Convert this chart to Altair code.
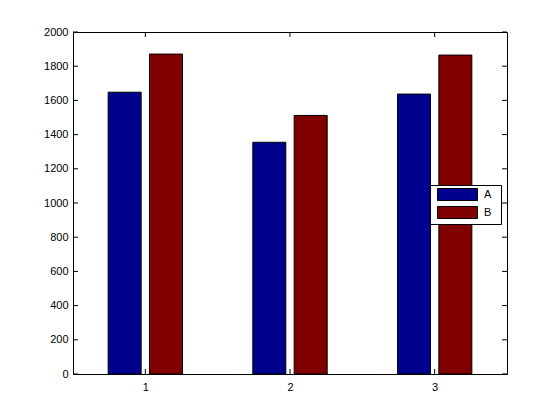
import altair as alt
import pandas as pd

categories = [1, 2, 3]
series_names = ["A", "B"]
a_vals = [1648, 1355, 1637]
b_vals = [1871, 1512, 1865]
y_ticks = [0, 200, 400, 600, 800, 1000, 1200, 1400, 1600, 1800, 2000]
x_ticks = [1, 2, 3]

rows = []
for c, a, b in zip(categories, a_vals, b_vals):
    rows.append({"cat": c, "series": "A", "value": a})
    rows.append({"cat": c, "series": "B", "value": b})
df = pd.DataFrame(rows)

W, H = 434, 342
xscale = alt.Scale(domain=[0.5, 3.5], nice=False, zero=False, padding=0)
yscale = alt.Scale(domain=[0, 2000], nice=False, padding=0)
xaxis = alt.Axis(values=x_ticks, format="d", title=None, grid=False,
                 ticks=False, labelPadding=7, domainColor="black",
                 labelColor="black", labelFont="Liberation Sans",
                 labelFontSize=11, labelOverlap=False)
yaxis = alt.Axis(values=y_ticks, format="d", title=None, grid=False, ticks=False,
                 labelPadding=5, domainColor="black", labelColor="black",
                 labelFont="Liberation Sans", labelFontSize=11,
                 labelOverlap=False)

bars = alt.Chart(df).transform_calculate(
    xpos="datum.cat + (datum.series == 'A' ? -0.143 : 0.143)"
).mark_bar(size=33, stroke="black", strokeWidth=1).encode(
    x=alt.X("xpos:Q", scale=xscale, axis=xaxis),
    y=alt.Y("value:Q", scale=yscale, axis=yaxis),
    color=alt.Color("series:N",
                    scale=alt.Scale(domain=series_names, range=["#00008F", "#800000"]),
                    legend=alt.Legend(title=None, orient="none", legendX=357, legendY=153,
                                      symbolType="M-3.333,-1H3.333V1H-3.333Z M6.3,0",
                                      symbolSize=144,
                                      symbolOffset=18,
                                      symbolStrokeColor="black", symbolStrokeWidth=1,
                                      symbolOpacity=1,
                                      strokeColor="black", fillColor="white",
                                      padding=3, rowPadding=1, labelOffset=20,
                                      labelFont="Liberation Sans", labelFontSize=11,
                                      labelColor="black")),
)

ydf = pd.DataFrame({"v": y_ticks})
xdf = pd.DataFrame({"v": x_ticks})

yl = alt.Chart(ydf).mark_rule(color="black").encode(
    y=alt.Y("v:Q", scale=yscale, axis=yaxis), x=alt.value(0), x2=alt.value(5))
yr = alt.Chart(ydf).mark_rule(color="black").encode(
    y=alt.Y("v:Q", scale=yscale, axis=yaxis), x=alt.value(W - 5), x2=alt.value(W))
xb = alt.Chart(xdf).mark_rule(color="black").encode(
    x=alt.X("v:Q", scale=xscale, axis=xaxis), y=alt.value(H - 5), y2=alt.value(H))
xt = alt.Chart(xdf).mark_rule(color="black").encode(
    x=alt.X("v:Q", scale=xscale, axis=xaxis), y=alt.value(0), y2=alt.value(5))

chart = alt.layer(bars, yl, yr, xb, xt).properties(
    width=W, height=H,
    autosize=alt.AutoSizeParams(type="none"),
    padding={"left": 65, "top": 24, "right": 45, "bottom": 38},
    background="white",
).configure_view(stroke="black", strokeWidth=1)

chart.save("out.html", embed_options={"renderer": "svg", "actions": False})
